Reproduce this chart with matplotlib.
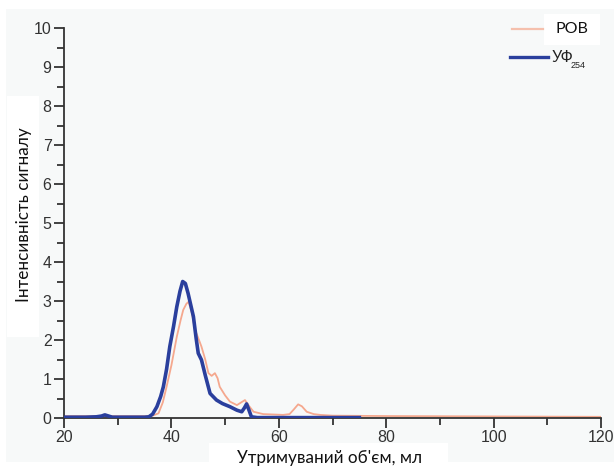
import matplotlib
matplotlib.use('Agg')
import matplotlib.pyplot as plt
from matplotlib.patches import Rectangle
import numpy as np

uf_x = [20, 24, 26, 27, 27.6, 28.3, 29, 31, 35, 35.8, 36.5, 37.3, 38.0, 38.5, 39.1, 39.7,
        40.4, 41.0, 41.6, 42.1, 42.6, 43.1, 43.6, 44.1, 44.6, 45.0, 45.6, 46.3, 47.2,
        48.4, 49.5, 50.9, 52.2, 53.1, 53.6, 54.0, 54.4, 54.9, 56, 60, 75]
uf_y = [0.02, 0.02, 0.03, 0.05, 0.08, 0.05, 0.02, 0.02, 0.02, 0.03, 0.1, 0.29, 0.55, 0.8,
        1.25, 1.83, 2.35, 2.85, 3.25, 3.5, 3.45, 3.2, 2.9, 2.6, 2.05, 1.66, 1.49, 1.1,
        0.63, 0.46, 0.37, 0.29, 0.2, 0.16, 0.26, 0.36, 0.22, 0.03, 0.01, 0.01, 0.01]

rov_x = [20, 25, 30, 35, 36.5, 37.6, 38.4, 39.1, 40.0, 41.0, 41.7, 42.2, 42.8, 43.2, 43.8,
         44.4, 45.0, 45.6, 46.3, 46.9, 47.5, 48.1, 48.6, 49.0, 50.0, 50.9, 52.2, 53.0, 53.7,
         54.5, 55.3, 57.1, 60.8, 62.0, 62.8, 63.6, 64.3, 65.2, 66.5, 67.7, 70, 80, 100, 120]
rov_y = [0.05, 0.05, 0.05, 0.05, 0.06, 0.12, 0.4, 0.8, 1.35, 2.08, 2.5, 2.77, 2.93, 2.98,
         2.7, 2.26, 2.05, 1.83, 1.5, 1.15, 1.08, 1.15, 1.02, 0.8, 0.58, 0.42, 0.33, 0.4, 0.46,
         0.3, 0.16, 0.1, 0.08, 0.1, 0.22, 0.35, 0.3, 0.16, 0.1, 0.08, 0.06, 0.05, 0.04, 0.03]

bg = '#f7f9f9'
fig = plt.figure(figsize=(6.14, 4.71), dpi=100, facecolor='white')
fig.patches.append(Rectangle((6 / 614, 9 / 471), 1, 453 / 471, transform=fig.transFigure,
                             facecolor=bg, edgecolor='none', zorder=-10))

ax = fig.add_axes([64 / 614, 1 - 418 / 471, 537 / 614, 390 / 471])
ax.set_facecolor('none')

ax.plot(rov_x, rov_y, color='#f5a88e', lw=1.3, label='РОВ', zorder=2)
ax.plot(uf_x, uf_y, color='#2a3f9d', lw=2.6, label='УФ$_{254}$', zorder=3)

ax.set_xlim(20, 120)
ax.set_ylim(0, 10)
ax.set_xticks(np.arange(20, 121, 20))
ax.set_xticks(np.arange(30, 120, 20), minor=True)
ax.set_yticks(np.arange(0, 11, 1))
ax.set_yticks(np.arange(0.5, 10, 1), minor=True)

for s in ['top', 'right']:
    ax.spines[s].set_visible(False)
for s in ['left', 'bottom']:
    ax.spines[s].set_color('#333333')
    ax.spines[s].set_linewidth(1.3)
ax.tick_params(which='major', direction='out', length=7, width=1.3, color='#333333',
               labelsize=11.5, labelcolor='#333333', pad=2)
ax.tick_params(which='minor', direction='out', length=5, width=1.3, color='#333333')
for lab in ax.get_xticklabels() + ax.get_yticklabels():
    lab.set_family('Liberation Sans')

# legend drawn by hand, like the reference
fig.lines.append(plt.Line2D([512 / 614, 543 / 614], [1 - 29 / 471, 1 - 29 / 471],
                            transform=fig.transFigure, color='#f5c0ad', lw=1.6))
fig.patches.append(Rectangle((544 / 614, 1 - 45 / 471), 56 / 614, 31 / 471,
                             transform=fig.transFigure, facecolor='white',
                             edgecolor='none', zorder=1))
fig.text(572 / 614, 1 - 29 / 471, 'РОВ', ha='center', va='center', fontsize=11.5,
         family='Lato', color='#111111')
fig.lines.append(plt.Line2D([510 / 614, 548 / 614], [1 - 57 / 471, 1 - 57 / 471],
                            transform=fig.transFigure, color='#2a3f9d', lw=2.4))
fig.text(552 / 614, 1 - 57 / 471, 'УФ', ha='left', va='center', fontsize=11.5,
         family='Liberation Sans', color='#222222')
fig.text(571 / 614, 1 - 66 / 471, '254', ha='left', va='center', fontsize=6.5,
         family='Liberation Sans', color='#222222')

# label boxes
fig.patches.append(Rectangle((7 / 614, 1 - 337 / 471), 32 / 614, 241 / 471,
                             transform=fig.transFigure, facecolor='white',
                             edgecolor='none', zorder=1))
fig.text(24 / 614, 1 - 215 / 471, 'Інтенсивність сигналу', rotation=90, ha='center',
         va='center', fontsize=12.3, family='Lato', color='#111111')
fig.patches.append(Rectangle((209 / 614, 0), 239 / 614, 28 / 471,
                             transform=fig.transFigure, facecolor='white',
                             edgecolor='none', zorder=1))
fig.text(330 / 614, 1 - 458 / 471, "Утримуваний об'єм, мл", ha='center', va='center',
         fontsize=12.3, family='Lato', color='#111111')

fig.savefig('out.png', dpi=100, facecolor=fig.get_facecolor())
